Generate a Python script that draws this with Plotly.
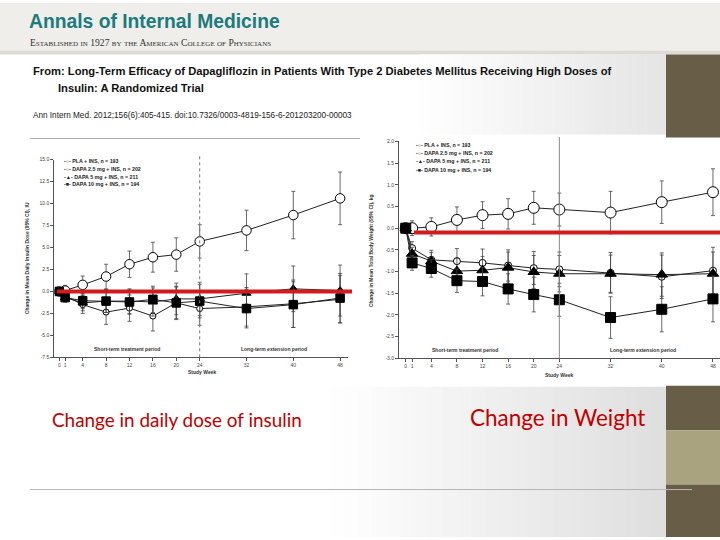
import plotly.graph_objects as go

W, H = 720, 540

# ---------------- data ----------------
weeks = [0, 1, 4, 8, 12, 16, 20, 24, 32, 40, 48]
week_ticks = [0, 1, 4, 8, 12, 16, 20, 24, 32, 40, 48]

series_names = ["PLA + INS, n = 193", "DAPA 2.5 mg + INS, n = 202",
                "DAPA 5 mg + INS, n = 211", "DAPA 10 mg + INS, n = 194"]

# Change in daily insulin dose (IU)
ins_pla = [0, 0.1, 0.75, 1.7, 3.1, 3.9, 4.2, 5.7, 6.95, 8.7, 10.6]
ins_pla_err = [0, 0.6, 1.0, 1.4, 1.5, 1.7, 1.9, 1.9, 2.3, 2.7, 3.0]
ins_d25 = [0, -0.5, -1.5, -2.35, -1.9, -2.8, -1.3, -1.95, -1.75, -1.4, -0.9]
ins_d25_err = [0, 0.6, 1.0, 1.4, 1.5, 1.7, 1.9, 1.9, 2.2, 2.7, 2.7]
ins_d5 = [0, -0.7, -1.3, -1.1, -1.1, -1.2, -0.85, -0.85, -0.2, 0.3, 0.1]
ins_d5_err = [0, 0.5, 0.9, 1.3, 1.4, 1.6, 1.8, 1.9, 2.2, 2.6, 2.9]
ins_d10 = [0, -0.7, -1.05, -1.1, -1.2, -0.9, -1.3, -1.1, -1.95, -1.5, -0.75]
ins_d10_err = [0, 0.5, 0.9, 1.3, 1.4, 1.5, 1.8, 1.9, 2.2, 2.6, 2.8]
ins_ticks = [-7.5, -5.0, -2.5, 0.0, 2.5, 5.0, 7.5, 10.0, 12.5, 15.0]
ins_ref = 0.0

# Change in body weight (kg)
wt_pla = [0, 0.0, 0.03, 0.19, 0.3, 0.33, 0.47, 0.43, 0.36, 0.6, 0.83]
wt_pla_err = [0, 0.17, 0.21, 0.3, 0.31, 0.35, 0.38, 0.38, 0.49, 0.49, 0.54]
wt_d25 = [0, -0.46, -0.73, -0.76, -0.8, -0.86, -0.92, -0.95, -1.03, -1.12, -0.98]
wt_d25_err = [0, 0.15, 0.22, 0.29, 0.32, 0.36, 0.38, 0.4, 0.47, 0.5, 0.54]
wt_d5 = [0, -0.59, -0.76, -0.99, -0.97, -0.91, -1.01, -1.05, -1.05, -1.07, -1.05]
wt_d5_err = [0, 0.15, 0.2, 0.3, 0.32, 0.36, 0.38, 0.42, 0.43, 0.5, 0.5]
wt_d10 = [0, -0.8, -0.93, -1.21, -1.23, -1.4, -1.53, -1.65, -2.06, -1.87, -1.63]
wt_d10_err = [0, 0.17, 0.2, 0.27, 0.33, 0.35, 0.4, 0.38, 0.48, 0.52, 0.53]
wt_ticks = [-3.0, -2.5, -2.0, -1.5, -1.0, -0.5, 0.0, 0.5, 1.0, 1.5, 2.0]
wt_ref = -0.1

# ---------------- helpers ----------------
def px(x):
    return x / W

def py(y):
    return 1 - y / H

symbols = ["circle", "circle", "triangle-up", "square"]
fills = ["white", "white", "black", "black"]
sizes_left = [9.5, 6, 8, 8.5]
sizes_right = [11, 7, 10, 10]

fig = go.Figure()

def add_series(ys, errs, xa, ya, sizes):
    for name, y, e, sym, fc, sz in zip(series_names, ys, errs, symbols, fills, sizes):
        fig.add_trace(go.Scatter(
            x=weeks, y=y, mode="lines+markers", name=name, showlegend=False,
            xaxis=xa, yaxis=ya,
            line=dict(color="#222", width=1),
            marker=dict(symbol=sym, size=sz, color=fc, line=dict(color="#000", width=1)),
            error_y=dict(type="data", array=e, color="#444", thickness=0.8, width=2),
        ))

add_series([ins_pla, ins_d25, ins_d5, ins_d10],
           [ins_pla_err, ins_d25_err, ins_d5_err, ins_d10_err], "x", "y", sizes_left)
add_series([wt_pla, wt_d25, wt_d5, wt_d10],
           [wt_pla_err, wt_d25_err, wt_d5_err, wt_d10_err], "x2", "y2", sizes_right)

tickfont = dict(family="Liberation Sans, Arial", size=5, color="#444")
axis_common = dict(showline=True, linecolor="#555", linewidth=1, ticks="outside",
                   ticklen=3, tickcolor="#555", tickwidth=1, showgrid=False,
                   zeroline=False, tickfont=tickfont, fixedrange=True)

fig.update_layout(
    width=W, height=H, margin=dict(l=0, r=0, t=0, b=0),
    paper_bgcolor="white", plot_bgcolor="rgba(0,0,0,0)",
    showlegend=False,
    xaxis=dict(domain=[px(54.3), px(348)], range=[-0.85, 49.35], anchor="y",
               tickvals=week_ticks, ticktext=[str(t) for t in week_ticks], **axis_common),
    yaxis=dict(domain=[py(358.3), py(158.5)], range=[-7.5, 15.0], anchor="x",
               tickvals=ins_ticks, ticktext=["%.1f" % t for t in ins_ticks], **axis_common),
    xaxis2=dict(domain=[px(399), 1.0], range=[-1.05, 49.1], anchor="y2",
                tickvals=week_ticks, ticktext=[str(t) for t in week_ticks], **axis_common),
    yaxis2=dict(domain=[py(359.3), py(140)], range=[-3.0, 2.0], anchor="x2",
                tickvals=wt_ticks, ticktext=["%.1f" % t for t in wt_ticks], **axis_common),
)

shapes = []
# header band
shapes.append(dict(type="rect", xref="paper", yref="paper", x0=0, x1=1, y0=py(48), y1=1,
                   fillcolor="#efeeea", line_width=0, layer="below"))
shapes.append(dict(type="rect", xref="paper", yref="paper", x0=0, x1=1, y0=py(52), y1=py(48),
                   fillcolor="#dedbd4", line_width=0, layer="below"))

# gradient background approximations
def gradient(x0, x1, y0, y1, c_end, steps=24):
    for i in range(steps):
        a = x0 + (x1 - x0) * i / steps
        b = x0 + (x1 - x0) * (i + 1) / steps
        t = (i + 0.5) / steps
        v = int(round(255 - (255 - c_end) * t))
        shapes.append(dict(type="rect", xref="paper", yref="paper",
                           x0=px(a), x1=px(b) + 0.0005, y0=py(y1), y1=py(y0),
                           fillcolor="rgb(%d,%d,%d)" % (v, v, v), line_width=0, layer="below"))

gradient(420, 667, 52, 133, 228)
gradient(330, 667, 388, 540, 222)

# decorative side blocks
side = [(52, 136, "#685e47"), (387, 432, "#685e47"), (432, 487, "#a9a47f"), (487, 540, "#685e47")]
for y0, y1, c in side:
    shapes.append(dict(type="rect", xref="paper", yref="paper", x0=px(666), x1=1,
                       y0=py(y1), y1=py(y0), fillcolor=c, line_width=0, layer="below"))

# bottom rule
shapes.append(dict(type="line", xref="paper", yref="paper", x0=px(30), x1=px(692),
                   y0=py(492), y1=py(492), line=dict(color="#b5b5b5", width=1)))
# thin line above left chart
shapes.append(dict(type="line", xref="paper", yref="paper", x0=px(30), x1=px(360),
                   y0=py(137), y1=py(137), line=dict(color="#b0b0b0", width=1)))

# week-24 dividers
shapes.append(dict(type="line", xref="x", yref="y domain", x0=24, x1=24, y0=0, y1=1.02,
                   line=dict(color="#777", width=1, dash="dot")))
shapes.append(dict(type="line", xref="x2", yref="y2 domain", x0=24, x1=24, y0=0, y1=1.02,
                   line=dict(color="#888", width=1)))

# red reference lines
shapes.append(dict(type="line", xref="paper", yref="y", x0=px(57), x1=px(352),
                   y0=ins_ref, y1=ins_ref, line=dict(color="#d01c1c", width=4)))
shapes.append(dict(type="line", xref="paper", yref="y2", x0=px(414), x1=1,
                   y0=wt_ref, y1=wt_ref, line=dict(color="#d01c1c", width=4)))

fig.update_layout(shapes=shapes)

ann = []
def text(x, y, s, size, color="#111", family="Liberation Sans, Arial", anchor="left",
         yanchor="middle", angle=0, bold=False, variant=None):
    f = dict(size=size, color=color, family=family)
    if bold:
        f["weight"] = "bold"
    if variant:
        f["variant"] = variant
    ann.append(dict(x=px(x), y=py(y), xref="paper", yref="paper", text=s, showarrow=False,
                    xanchor=anchor, yanchor=yanchor, textangle=angle, font=f))

sans = "Liberation Sans, Arial"
text(27, 19, "Annals of Internal Medicine", 19.3, color="#1b7b7e", family=sans, bold=True)
text(28, 40, "Established in 1927 by the American College of Physicians", 9.6,
     color="#333", family="Liberation Serif, DejaVu Serif, serif", variant="small-caps")

text(31, 69, "From: Long-Term Efficacy of Dapagliflozin in Patients With Type 2 Diabetes Mellitus Receiving High Doses of",
     11.2, color="#111", family=sans, bold=True)
text(56, 86, "Insulin: A Randomized Trial", 11.2, color="#111", family=sans, bold=True)
text(31, 114, "Ann Intern Med. 2012;156(6):405-415. doi:10.7326/0003-4819-156-6-201203200-00003",
     8.2, color="#222", family=sans)

# legends
leg_syms = ["-○-", "-○-", "-▲-", "-■-"]
for i, (sym, name) in enumerate(zip(leg_syms, series_names)):
    text(62, 159.5 + i * 8.0, sym + " " + name, 5.3, color="#222", bold=True)
    text(414, 143.5 + i * 8.3, sym + " " + name, 5.3, color="#222", bold=True)

# period labels and axis titles
text(127, 350, "Short-term treatment period", 5, color="#333", anchor="center", bold=True)
text(274, 350, "Long-term extension period", 5, color="#333", anchor="center", bold=True)
text(465, 351, "Short-term treatment period", 5, color="#333", anchor="center", bold=True)
text(643, 351, "Long-term extension period", 5, color="#333", anchor="center", bold=True)
text(202, 373, "Study Week", 5, color="#333", anchor="center", bold=True)
text(559, 376, "Study Week", 5, color="#333", anchor="center", bold=True)
text(27, 258, "Change in Mean Daily Insulin Dose (95% CI), IU", 5, color="#333",
     anchor="center", angle=-90, bold=True)
text(371, 250, "Change in Mean Total Body Weight (95% CI), kg", 5, color="#333",
     anchor="center", angle=-90, bold=True)

# slide captions
text(50, 421, "Change in daily dose of insulin", 18.9, color="#c00000",
     family="Lato, Open Sans, Liberation Sans")
text(468, 419, "Change in Weight", 22.5, color="#c00000",
     family="Lato, Open Sans, Liberation Sans")

fig.update_layout(annotations=ann)
fig.write_html("out.html", config={"displayModeBar": False},
               post_script="document.body.style.margin='0px';")
